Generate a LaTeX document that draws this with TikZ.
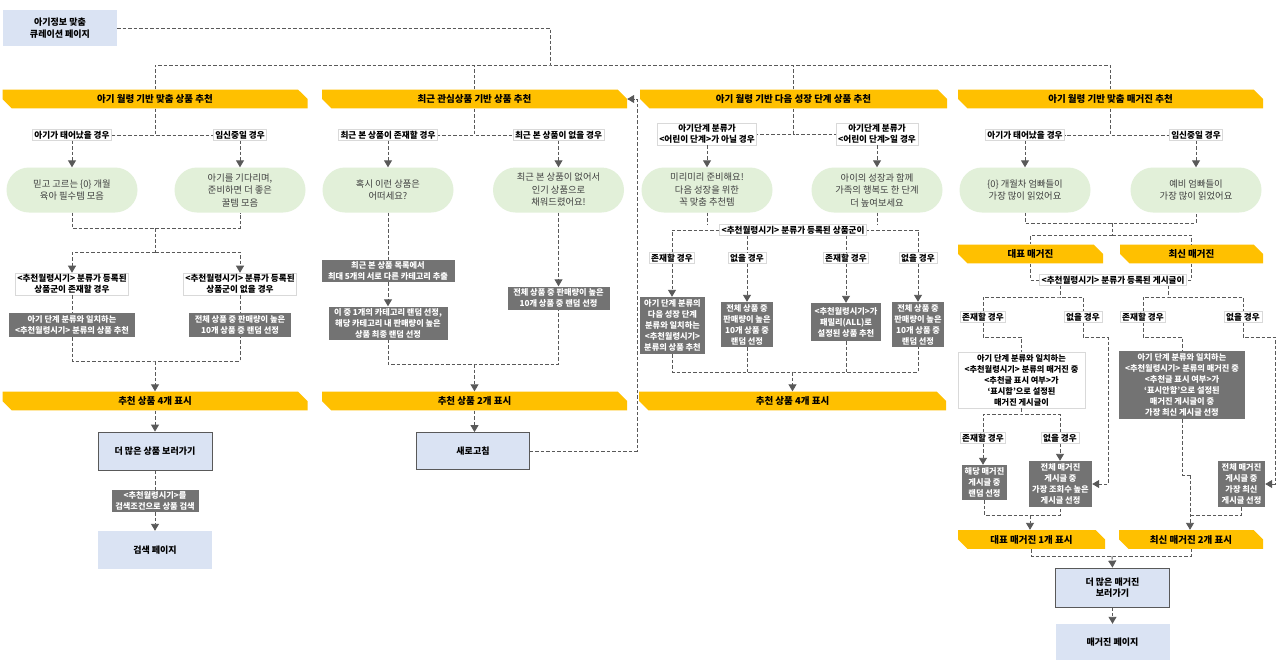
\documentclass[tikz,border=0pt]{standalone}
\usepackage{fontspec}
\setmainfont{Noto Sans CJK KR}
\usepackage{tikz}
\usetikzlibrary{arrows.meta,shapes.misc}

\definecolor{bannery}{HTML}{FFC000}
\definecolor{stadiumg}{HTML}{E2F0D9}
\definecolor{pageb}{HTML}{DAE3F3}
\definecolor{darkg}{HTML}{737373}
\definecolor{lineg}{HTML}{595959}
\definecolor{labelb}{HTML}{D9D9D9}
\definecolor{stext}{HTML}{404040}

\tikzset{
  banner/.style={shape=chamfered rectangle, chamfered rectangle corners={north east,south west},
    chamfered rectangle xsep=5pt, chamfered rectangle ysep=5pt, fill=bannery, inner sep=0pt,
    minimum width=305pt, minimum height=18pt, font=\bfseries\fontsize{9.5}{10}\selectfont},
  caselabel/.style={fill=white, draw=labelb, line width=0.6pt, inner xsep=2pt, inner ysep=1.2pt,
    align=center, font=\bfseries\fontsize{8.6}{11.5}\selectfont},
  stadium/.style={shape=rounded rectangle, fill=stadiumg, minimum width=133pt, minimum height=45pt,
    inner sep=1pt, align=center, text=stext, font=\fontsize{9.3}{12.5}\selectfont},
  darkbox/.style={fill=darkg, text=white, inner sep=0.5pt, align=center,
    font=\bfseries\fontsize{8.2}{11}\selectfont},
  pagebox/.style={fill=pageb, minimum width=114pt, minimum height=38pt, align=center,
    font=\bfseries\fontsize{9}{11.5}\selectfont},
  linkbox/.style={pagebox, draw=lineg, line width=0.8pt},
  flow/.style={draw=lineg, line width=0.9pt, dash pattern=on 3.5pt off 2pt},
  flowarrow/.style={flow, -{Triangle[width=8pt,length=7pt]}},
}

\begin{document}
\begin{tikzpicture}[x=1pt,y=-1pt]
  \useasboundingbox (0,0) rectangle (1280,667);
  \fill[white] (0,0) rectangle (1280,667);

  % Define nodes
  \node[pagebox, minimum height=36pt] (root) at (60,28) {아기정보 맞춤\\큐레이션 페이지};

  % column 1
  \node[banner] (b1) at (155,99) {아기 월령 기반 맞춤 상품 추천};
  \node[caselabel] (c1a) at (72,135) {아기가 태어났을 경우};
  \node[caselabel] (c1b) at (240,135) {임신중일 경우};
  \node[stadium] (s1a) at (72,190) {믿고 고르는 \{0\} 개월\\육아 필수템 모음};
  \node[stadium] (s1b) at (240,190) {아기를 기다리며,\\준비하면 더 좋은\\꿀템 모음};
  \node[caselabel] (k1a) at (72,284) {<추천월령시기> 분류가 등록된\\상품군이 존재할 경우};
  \node[caselabel] (k1b) at (240,284) {<추천월령시기> 분류가 등록된\\상품군이 없을 경우};
  \node[darkbox, minimum width=126pt, minimum height=24pt] (d1a) at (72,325) {아기 단계 분류와 일치하는\\<추천월령시기> 분류의 상품 추천};
  \node[darkbox, minimum width=102pt, minimum height=24pt] (d1b) at (240,325) {전체 상품 중 판매량이 높은\\10개 상품 중 랜덤 선정};
  \node[banner] (e1) at (155,401) {추천 상품 4개 표시};
  \node[linkbox] (f1) at (155,451) {더 많은 상품 보러가기};
  \node[darkbox, minimum width=87pt, minimum height=22pt] (g1) at (155,501) {<추천월령시기>를\\검색조건으로 상품 검색};
  \node[pagebox] (h1) at (155,550) {검색 페이지};

  % column 2
  \node[banner] (b2) at (474.5,99) {최근 관심상품 기반 상품 추천};
  \node[caselabel] (c2a) at (388,135) {최근 본 상품이 존재할 경우};
  \node[caselabel] (c2b) at (558.5,135) {최근 본 상품이 없을 경우};
  \node[stadium] (s2a) at (388,190) {혹시 이런 상품은\\어떠세요?};
  \node[stadium] (s2b) at (558.5,190) {최근 본 상품이 없어서\\인기 상품으로\\채워드렸어요!};
  \node[darkbox, minimum width=133pt, minimum height=22pt] (d2a) at (388,271) {최근 본 상품 목록에서\\최대 5개의 서로 다른 카테고리 추출};
  \node[darkbox, minimum width=119pt, minimum height=33pt] (d2b) at (388,323) {이 중 1개의 카테고리 랜덤 선정,\\해당 카테고리 내 판매량이 높은\\상품 최종 랜덤 선정};
  \node[darkbox, minimum width=102pt, minimum height=23pt] (d2c) at (558.5,298) {전체 상품 중 판매량이 높은\\10개 상품 중 랜덤 선정};
  \node[banner] (e2) at (474.5,401) {추천 상품 2개 표시};
  \node[linkbox, minimum width=113pt, minimum height=37pt] (f2) at (473,451) {새로고침};

  % column 3
  \node[banner, minimum width=307pt] (b3) at (793.5,99) {아기 월령 기반 다음 성장 단계 상품 추천};
  \node[caselabel] (c3a) at (707,134) {아기단계 분류가\\<어린이 단계>가 아닐 경우};
  \node[caselabel] (c3b) at (877,134) {아기단계 분류가\\<어린이 단계>일 경우};
  \node[stadium] (s3a) at (707,190) {미리미리 준비해요!\\다음 성장을 위한\\꼭 맞춤 추천템};
  \node[stadium] (s3b) at (877,190) {아이의 성장과 함께\\가족의 행복도 한 단계\\더 높여보세요};
  \node[caselabel] (k3) at (793,230) {<추천월령시기> 분류가 등록된 상품군이};
  \node[caselabel] (x3a) at (672,258) {존재할 경우};
  \node[caselabel] (x3b) at (747,258) {없을 경우};
  \node[caselabel] (x3c) at (846,258) {존재할 경우};
  \node[caselabel] (x3d) at (918,258) {없을 경우};
  \node[darkbox, minimum width=65pt, minimum height=57pt] (d3a) at (672.5,325.5) {아기 단계 분류의\\다음 성장 단계\\분류와 일치하는\\<추천월령시기>\\분류의 상품 추천};
  \node[darkbox, minimum width=52pt, minimum height=45pt] (d3b) at (747,324.5) {전체 상품 중\\판매량이 높은\\10개 상품 중\\랜덤 선정};
  \node[darkbox, minimum width=70pt, minimum height=38pt] (d3c) at (846,322) {<추천월령시기>가\\패밀리(ALL)로\\설정된 상품 추천};
  \node[darkbox, minimum width=52pt, minimum height=45pt] (d3d) at (918,324.5) {전체 상품 중\\판매량이 높은\\10개 상품 중\\랜덤 선정};
  \node[banner, minimum width=307pt] (e3) at (792.5,401) {추천 상품 4개 표시};

  % column 4
  \node[banner] (b4) at (1110.5,99) {아기 월령 기반 맞춤 매거진 추천};
  \node[caselabel] (c4a) at (1025,135) {아기가 태어났을 경우};
  \node[caselabel] (c4b) at (1196,135) {임신중일 경우};
  \node[stadium] (s4a) at (1025,190) {\{0\} 개월차 엄빠들이\\가장 많이 읽었어요};
  \node[stadium] (s4b) at (1196,190) {예비 엄빠들이\\가장 많이 읽었어요};
  \node[banner, minimum width=145pt, minimum height=16pt] (m4a) at (1030.5,254) {대표 매거진};
  \node[banner, minimum width=143pt, minimum height=16pt] (m4b) at (1191.5,254) {최신 매거진};
  \node[caselabel] (k4) at (1113,280) {<추천월령시기> 분류가 등록된 게시글이};
  \node[caselabel] (x4a) at (983,317) {존재할 경우};
  \node[caselabel] (x4b) at (1083,317) {없을 경우};
  \node[caselabel] (x4c) at (1143,317) {존재할 경우};
  \node[caselabel] (x4d) at (1243,317) {없을 경우};
  \node[caselabel, minimum width=127pt, minimum height=56pt, font=\bfseries\fontsize{8.2}{11}\selectfont] (w4) at (1021.5,380) {아기 단계 분류와 일치하는\\<추천월령시기> 분류의 매거진 중\\<추천글 표시 여부>가\\‘표시함’으로 설정된\\매거진 게시글이};
  \node[darkbox, minimum width=126pt, minimum height=68pt] (d4) at (1182,385) {아기 단계 분류와 일치하는\\<추천월령시기> 분류의 매거진 중\\<추천글 표시 여부>가\\‘표시안함’으로 설정된\\매거진 게시글이 중\\가장 최신 게시글 선정};
  \node[caselabel] (x4e) at (983,438) {존재할 경우};
  \node[caselabel] (x4f) at (1060,438) {없을 경우};
  \node[darkbox, minimum width=45pt, minimum height=35pt] (o4a) at (984.5,482.5) {해당 매거진\\게시글 중\\랜덤 선정};
  \node[darkbox, minimum width=63pt, minimum height=46pt] (o4b) at (1060.5,484) {전체 매거진\\게시글 중\\가장 조회수 높은\\게시글 선정};
  \node[darkbox, minimum width=47pt, minimum height=46pt] (o4d) at (1241.5,484) {전체 매거진\\게시글 중\\가장 최신\\게시글 선정};
  \node[banner, minimum width=147pt, minimum height=17pt] (e4a) at (1031.5,539.5) {대표 매거진 1개 표시};
  \node[banner, minimum width=144pt, minimum height=17pt] (e4b) at (1191,539.5) {최신 매거진 2개 표시};
  \node[linkbox, minimum height=39pt] (f4) at (1112.5,587.5) {더 많은 매거진\\보러가기};
  \node[pagebox, minimum height=36pt] (h4) at (1112.5,642) {매거진 페이지};

  % Connect the nodes
  \coordinate (top) at (550,65);
  \draw[flow] (root.east) -| (top);
  \draw[flow] (b1.north) |- (top) -| (b4.north);
  \draw[flow] (b2.north) -- (b2.north |- top);
  \draw[flow] (b3.north) -- (b3.north |- top);

  % column 1
  \draw[flow] (b1.south) |- (c1a.east);
  \draw[flow] (b1.south) |- (c1b.west);
  \draw[flowarrow] (c1a.south) -- (s1a.north);
  \draw[flowarrow] (c1b.south) -- (s1b.north);
  \coordinate (j1a) at (155,228);
  \coordinate (j1b) at (155,252);
  \coordinate (j1c) at (155,361);
  \draw[flow] (s1a.south) |- (j1a) -| (s1b.south);
  \draw[flow] (j1a) -- (j1b);
  \draw[flowarrow] (j1b) -| (k1a.north);
  \draw[flowarrow] (j1b) -| (k1b.north);
  \draw[flow] (k1a.south) -- (d1a.north);
  \draw[flow] (k1b.south) -- (d1b.north);
  \draw[flow] (d1a.south) |- (j1c) -| (d1b.south);
  \draw[flowarrow] (j1c) -- (e1.north);
  \draw[flowarrow] (e1.south) -- (f1.north);
  \draw[flow] (f1.south) -- (g1.north);
  \draw[flowarrow] (g1.south) -- (h1.north);

  % column 2
  \draw[flow] (b2.south) |- (c2a.east);
  \draw[flow] (b2.south) |- (c2b.west);
  \draw[flowarrow] (c2a.south) -- (s2a.north);
  \draw[flowarrow] (c2b.south) -- (s2b.north);
  \draw[flow] (s2a.south) -- (d2a.north);
  \draw[flowarrow] (d2a.south) -- (d2b.north);
  \draw[flowarrow] (s2b.south) -- (d2c.north);
  \coordinate (j2) at (474.5,364);
  \draw[flow] (d2b.south) |- (j2) -| (d2c.south);
  \draw[flowarrow] (j2) -- (e2.north);
  \draw[flowarrow] (e2.south) -- (e2.south |- f2.north);
  \coordinate (r2) at (637,99);
  \draw[flowarrow] (f2.east) -| (r2) -- (b2.east);

  % column 3
  \draw[flow] (b3.south) |- (c3a.east);
  \draw[flow] (b3.south) |- (c3b.west);
  \draw[flowarrow] (c3a.south) -- (s3a.north);
  \draw[flowarrow] (c3b.south) -- (s3b.north);
  \draw[flow] (s3a.south) -- (s3a.south |- k3.north);
  \draw[flow] (s3b.south) -- (s3b.south |- k3.north);
  \draw[flow] (x3a.north) |- (k3.west);
  \draw[flow] (x3d.north) |- (k3.east);
  \draw[flow] (x3b.north |- k3.south) -- (x3b.north);
  \draw[flow] (x3c.north |- k3.south) -- (x3c.north);
  \draw[flowarrow] (x3a.south) -- (x3a.south |- d3a.north);
  \draw[flowarrow] (x3b.south) -- (d3b.north);
  \draw[flowarrow] (x3c.south) -- (d3c.north);
  \draw[flowarrow] (x3d.south) -- (d3d.north);
  \coordinate (j3) at (792.5,372);
  \draw[flow] (d3a.south) |- (j3) -| (d3d.south);
  \draw[flow] (d3b.south) -- (d3b.south |- j3);
  \draw[flow] (d3c.south) -- (d3c.south |- j3);
  \draw[flowarrow] (j3) -- (e3.north);

  % column 4
  \draw[flow] (b4.south) |- (c4a.east);
  \draw[flow] (b4.south) |- (c4b.west);
  \draw[flowarrow] (c4a.south) -- (s4a.north);
  \draw[flowarrow] (c4b.south) -- (s4b.north);
  \coordinate (j4a) at (1112,223);
  \coordinate (j4b) at (1112,235);
  \draw[flow] (s4a.south) |- (j4a) -| (s4b.south);
  \draw[flow] (j4a) -- (j4b);
  \draw[flow] (j4b) -| (m4a.north);
  \draw[flow] (j4b) -| (m4b.north);
  \draw[flow] (m4a.south) |- (k4.west);
  \draw[flow] (m4b.south) |- (k4.east);
  \coordinate (p4a) at (1060,297);
  \coordinate (p4b) at (1168,297);
  \draw[flow] (p4a |- k4.south) -- (p4a);
  \draw[flow] (p4b |- k4.south) -- (p4b);
  \draw[flow] (x4a.north) |- (p4a) -| (x4b.north);
  \draw[flow] (x4c.north) |- (p4b) -| (x4d.north);
  \coordinate (q4a) at (1108,337);
  \coordinate (q4b) at (1275,337);
  \draw[flow] (x4a.south) |- (w4.north |- q4a) -- (w4.north);
  \draw[flowarrow] (x4b.south) |- (q4a) |- (o4b.east);
  \draw[flow] (x4c.south) |- (d4.north |- q4a) -- (d4.north);
  \draw[flowarrow] (x4d.south) |- (q4b) |- (o4d.east);
  \coordinate (p4c) at (1021.5,414);
  \draw[flow] (w4.south) -- (p4c);
  \draw[flow] (x4e.north) |- (p4c) -| (x4f.north);
  \draw[flowarrow] (x4e.south) -- (x4e.south |- o4a.north);
  \draw[flowarrow] (x4f.south) -- (x4f.south |- o4b.north);
  \coordinate (j4c) at (1030,515);
  \draw[flow] (o4a.south) |- (j4c) -| (o4b.south);
  \draw[flowarrow] (j4c) -- (j4c |- e4a.north);
  \coordinate (j4d) at (1190,475);
  \coordinate (j4e) at (1190,515);
  \draw[flow] (d4.south) |- (j4d);
  \draw[flow] (o4d.south) |- (j4e);
  \draw[flowarrow] (j4d) -- (j4d |- e4b.north);
  \coordinate (j4f) at (1112,556);
  \draw[flow] (e4a.south) |- (j4f) -| (e4b.south);
  \draw[flowarrow] (j4f) -- (f4.north);
  \draw[flowarrow] (f4.south) -- (h4.north);
\end{tikzpicture}
\end{document}
